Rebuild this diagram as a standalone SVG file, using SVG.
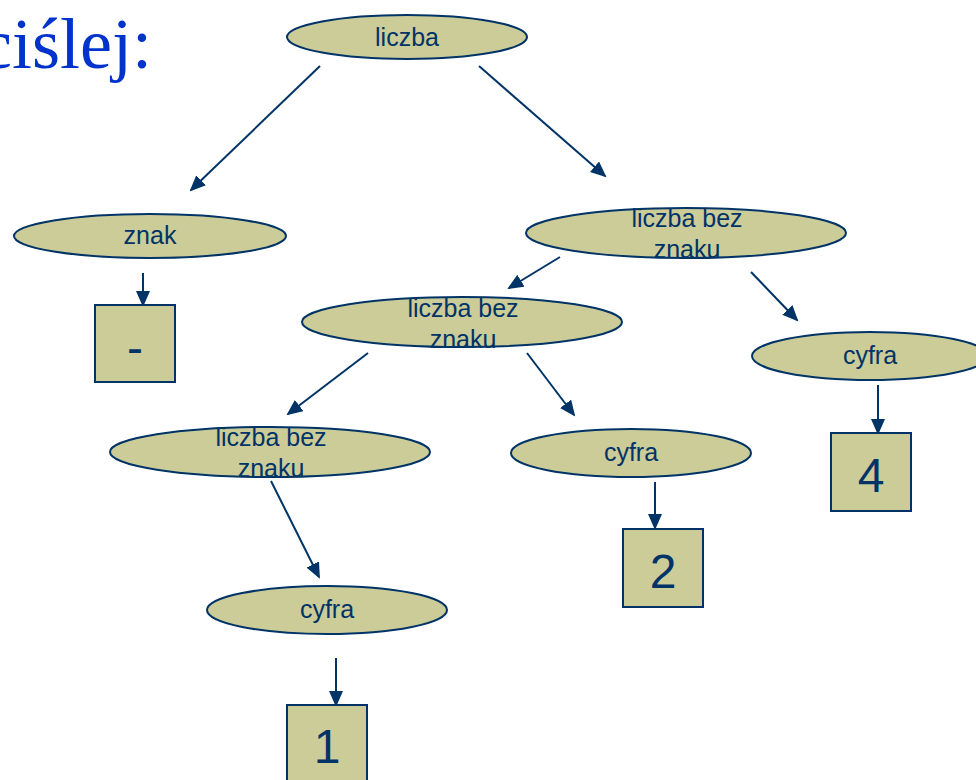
<svg xmlns="http://www.w3.org/2000/svg" width="976" height="780" viewBox="0 0 976 780">
<style>
.n ellipse, .n rect { fill: #CCCC99; stroke: #003366; stroke-width: 2; }
.n text { font-family: "Liberation Sans", Arial, sans-serif; font-size: 25px; fill: #003366; text-anchor: middle; }
.n text.big { font-size: 48px; }
.c line { stroke: #003366; stroke-width: 2; marker-end: url(#ah); }
.title { font-family: "Liberation Serif", "Times New Roman", serif; font-size: 72px; fill: #0033CC; text-anchor: end; }
</style>
<defs>
<marker id="ah" markerUnits="userSpaceOnUse" markerWidth="16" markerHeight="14" refX="14" refY="7" orient="auto">
<path d="M0,0 L16,7 L0,14 z" fill="#003366"/>
</marker>
</defs>
<rect width="976" height="780" fill="#ffffff"/>
<text class="title" x="152" y="68">ciślej:</text>
<g class="c" id="connectors">
<line x1="320" y1="66" x2="191" y2="190"/>
<line x1="479" y1="66" x2="605" y2="176"/>
<line x1="143" y1="273" x2="143" y2="305"/>
<line x1="560" y1="257" x2="509" y2="288"/>
<line x1="751" y1="272" x2="797" y2="320"/>
<line x1="368" y1="353" x2="288" y2="414"/>
<line x1="527" y1="353" x2="574" y2="415"/>
<line x1="878" y1="385" x2="878" y2="433"/>
<line x1="271" y1="481" x2="319" y2="577"/>
<line x1="655" y1="482" x2="655" y2="528"/>
<line x1="336" y1="658" x2="336" y2="705"/>
</g>
<g class="n" id="liczba">
<ellipse cx="407" cy="37" rx="120" ry="22"/>
<text x="407" y="46">liczba</text>
</g>
<g class="n" id="znak">
<ellipse cx="150" cy="236" rx="136" ry="22"/>
<text x="150" y="244">znak</text>
</g>
<g class="n" id="minus">
<rect x="95" y="305" width="80" height="77"/>
<text class="big" x="135" y="364">-</text>
</g>
<g class="n" id="lbz1">
<ellipse cx="686" cy="233" rx="160" ry="25"/>
<text x="687" y="227">liczba bez</text>
<text x="687" y="258">znaku</text>
</g>
<g class="n" id="lbz2">
<ellipse cx="462" cy="322" rx="160" ry="25"/>
<text x="463" y="317">liczba bez</text>
<text x="463" y="348">znaku</text>
</g>
<g class="n" id="cyfra4">
<ellipse cx="870" cy="356" rx="118" ry="24"/>
<text x="870" y="364">cyfra</text>
</g>
<g class="n" id="box4">
<rect x="831" y="433" width="80" height="78"/>
<text class="big" x="871" y="492">4</text>
</g>
<g class="n" id="lbz3">
<ellipse cx="270" cy="452" rx="160" ry="25"/>
<text x="271" y="446">liczba bez</text>
<text x="271" y="477">znaku</text>
</g>
<g class="n" id="cyfra2">
<ellipse cx="631" cy="453" rx="120" ry="24"/>
<text x="631" y="461">cyfra</text>
</g>
<g class="n" id="box2">
<rect x="623" y="529" width="80" height="78"/>
<text class="big" x="663" y="588">2</text>
</g>
<g class="n" id="cyfra1">
<ellipse cx="327" cy="610" rx="120" ry="24"/>
<text x="327" y="618">cyfra</text>
</g>
<g class="n" id="box1">
<rect x="287" y="705" width="80" height="80"/>
<text class="big" x="327" y="763">1</text>
</g>
</svg>
